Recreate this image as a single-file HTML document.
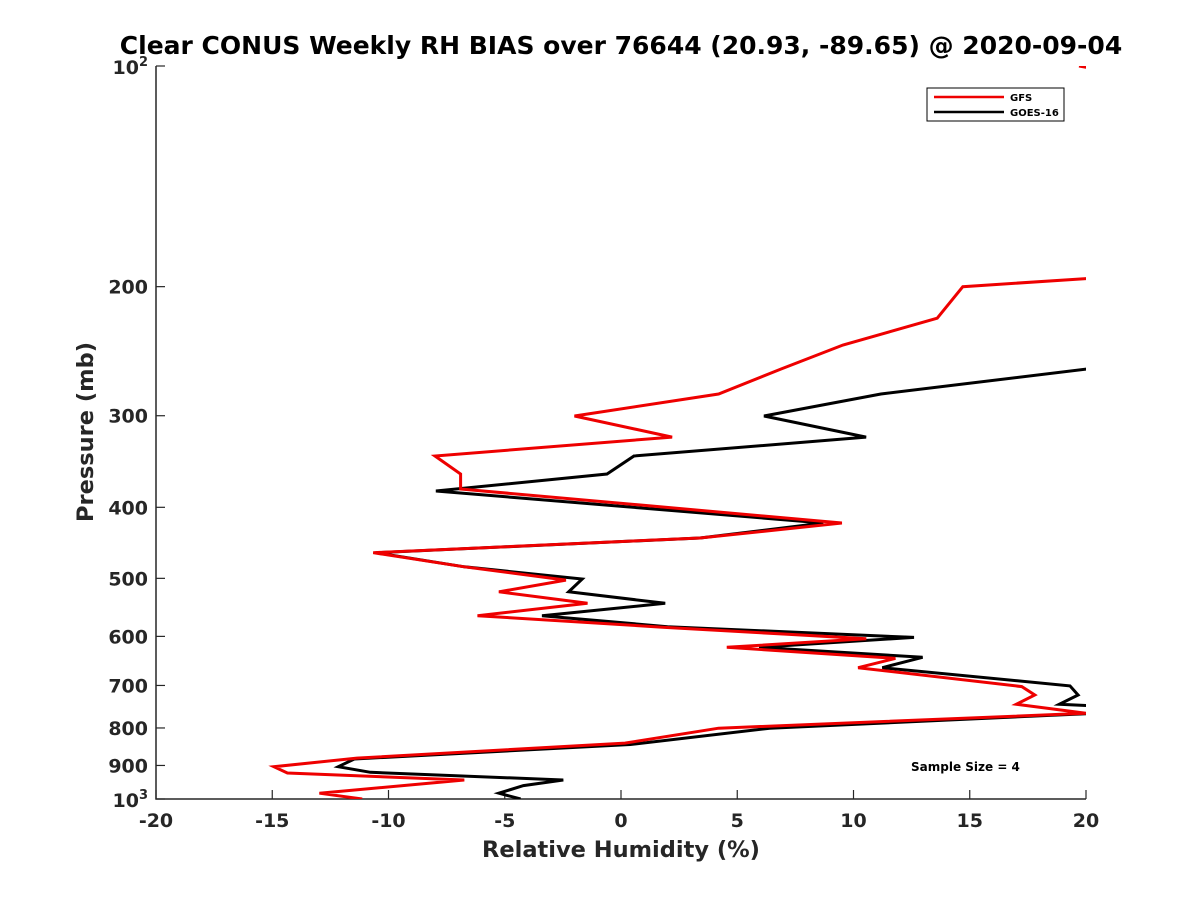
<!DOCTYPE html>
<html><head><meta charset="utf-8"><style>
body{margin:0;background:#fff;font-family:"Liberation Sans","DejaVu Sans",sans-serif;}
svg text{font-family:"DejaVu Sans","Liberation Sans",sans-serif;font-weight:bold;fill:#262626;}
</style></head><body>
<svg id="chart" width="1200" height="900" xmlns="http://www.w3.org/2000/svg">
<rect width="1200" height="900" fill="#fff"/>
<defs><clipPath id="plotclip"><rect x="156" y="66" width="930" height="733"/></clipPath></defs>
<text x="621" y="54" text-anchor="middle" font-size="25" style="fill:#000">Clear CONUS Weekly RH BIAS over 76644 (20.93, -89.65) @ 2020-09-04</text>
<g id="axes"></g>
<g id="series" clip-path="url(#plotclip)"></g>
<g>
<rect x="927" y="88" width="137" height="33" fill="#fff" stroke="#000" stroke-width="1"/>
<line x1="934" y1="97" x2="1004" y2="97" stroke="#e00" stroke-width="2.5"/>
<text x="1010" y="101" font-size="10" style="fill:#000">GFS</text>
<line x1="934" y1="112" x2="1004" y2="112" stroke="#000" stroke-width="2.5"/>
<text x="1010" y="116" font-size="10" style="fill:#000">GOES-16</text>
</g>
<text x="911" y="771" font-size="12" style="fill:#000">Sample Size = 4</text>
<text x="621" y="857" text-anchor="middle" font-size="22.5">Relative Humidity (%)</text>
<text transform="translate(93,432) rotate(-90)" text-anchor="middle" font-size="22.5">Pressure (mb)</text>
</svg>
<script>
const xTicks=[-20,-15,-10,-5,0,5,10,15,20];
const yTicks=[100,200,300,400,500,600,700,800,900,1000];
const gfsRH=[19.7,20.5,null,20.5,14.7,13.6,9.55,6.9,4.2,-2.0,2.2,-8.0,-6.9,-6.9,9.5,3.4,-10.66,-6.74,-2.37,-5.25,-1.44,-6.17,1.79,10.55,4.55,11.8,10.2,17.24,17.8,17.0,20,4.2,0.17,-11.36,-14.93,-14.35,-6.74,-12.97,-11.13];
const gfsP=[100,101,null,194.5,200,220.8,240.2,259,280.2,300.3,320.8,340.5,360.3,377.7,420.2,440.5,461.3,482.2,502.8,521.6,540.8,562.3,583,604.3,620.9,643,662,702.6,721.3,742.8,764,800.6,838.9,879.3,903.5,921.6,942.1,982,1000];
const goesRH=[20.5,11.18,6.15,10.54,0.56,-0.6,-7.96,8.7,3.4,-10.55,-6.74,-1.67,-2.25,1.9,-3.4,2.0,12.6,5.94,12.97,11.24,19.31,19.66,18.85,20.5,20,6.4,0.4,-11.47,-12.16,-10.78,-2.48,-4.2,-5.25,-4.32];
const goesP=[258,280.2,300.3,320.8,340.5,360.3,380,420.2,440.5,461.3,482.2,501,521.6,540.8,562.3,582,602,620.9,640.8,662,701,721.3,742.8,747,765,800.6,842.7,881.9,903.5,919.5,942.1,958.9,982,1000];
const X0=156,X1=1086,Y0=66,Y1=799;
const xs=v=>X0+(v+20)/40*(X1-X0);
const ys=p=>Y0+(Math.log10(p)-2)*(Y1-Y0);
const NS="http://www.w3.org/2000/svg";
function mk(t,a,parent){const e=document.createElementNS(NS,t);for(const k in a)e.setAttribute(k,a[k]);parent.appendChild(e);return e;}
const axes=document.getElementById('axes');
const ax=mk('path',{d:`M${X0},${Y0}V${Y1}H${X1}`,fill:'none',stroke:'#262626','stroke-width':1.5},axes);


xTicks.forEach(v=>{
 const x=xs(v);
 mk('line',{x1:x,x2:x,y1:Y1,y2:Y1-9,stroke:'#262626','stroke-width':1.2},axes);
 const t=mk('text',{x:x,y:Y1+28,'text-anchor':'middle','font-size':19},axes);
 t.textContent=String(v);
 
 
});
yTicks.forEach(p=>{
 const y=ys(p);
 mk('line',{x1:X0,x2:X0+9,y1:y,y2:y,stroke:'#262626','stroke-width':1.2},axes);
 let t;
 if(p===100||p===1000){
  t=mk('text',{x:X0-8,y:y+8,'text-anchor':'end','font-size':19},axes);
  t.innerHTML='10<tspan font-size="13" dy="-8">'+(p===100?'2':'3')+'</tspan>';
 } else {
  t=mk('text',{x:X0-8,y:y+7,'text-anchor':'end','font-size':19},axes);
  t.textContent=String(p);
 }
 
 
});
const ser=document.getElementById('series');
function line(rh,p,col,name){
 let d='',pen=false;
 rh.forEach((v,i)=>{
  if(v===null||p[i]===null){pen=false;return;}
  d+=(pen?'L':'M')+xs(v).toFixed(1)+','+ys(p[i]).toFixed(1);pen=true;
 });
 const e=mk('path',{d:d,fill:'none',stroke:col,'stroke-width':3,'stroke-linejoin':'miter'},ser);
 
 
}
line(goesRH,goesP,'#000','goes16-line');
line(gfsRH,gfsP,'#e00','gfs-line');
</script>
</body></html>
